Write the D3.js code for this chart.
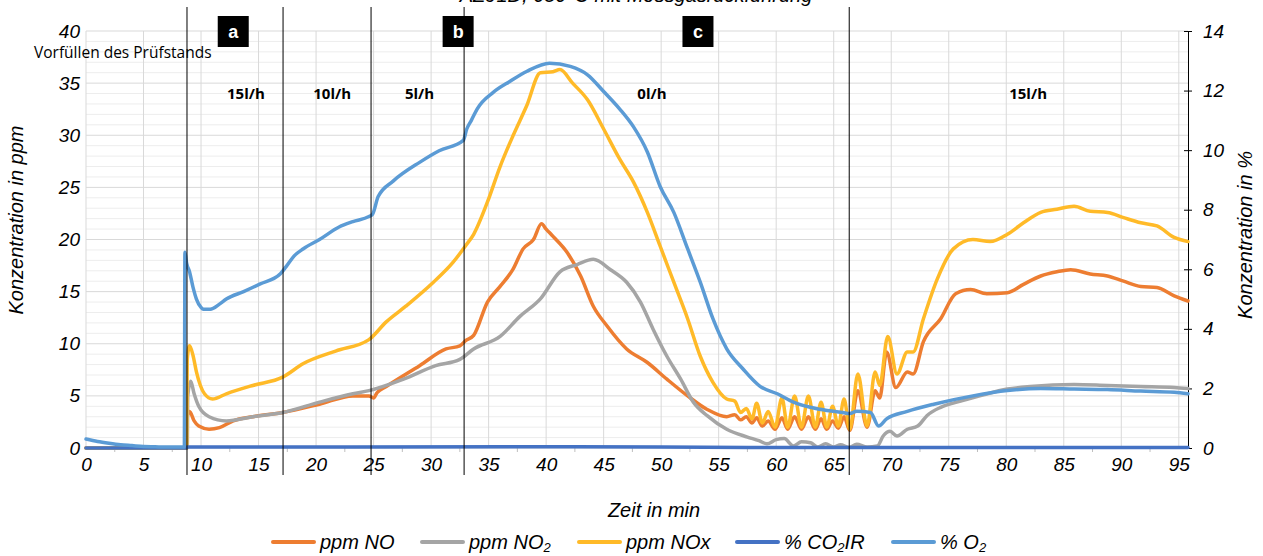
<!DOCTYPE html>
<html>
<head>
<meta charset="utf-8">
<script src="https://cdn.jsdelivr.net/npm/d3@7"></script>
<style>
  body { margin: 0; background: #fff; }
  svg { display: block; font-family: "Liberation Sans", Arial, sans-serif; }
</style>
</head>
<body>
<div id="chart"></div>
<script>
// Time in min, values in ppm (NO, NO2, NOx) or % (CO2, O2)
var noData = [[0,0],[8.75,0],[8.8,3.0],[9.0,3.5],[9.4,2.6],[9.8,2.1],[10.7,1.8],[11.6,1.95],[12.8,2.6],[14.5,3.0],[17.1,3.4],
  [20.3,4.2],[23.2,5.0],[24.6,5.0],[25.0,4.8],[25.3,5.3],[26.1,5.9],[29.0,7.9],[31.3,9.5],[32.5,9.8],[33.0,10.3],[33.7,10.8],
  [34.9,14.0],[36.0,15.5],[37.1,17.1],[38.0,19.1],[38.9,20.0],[39.6,21.5],[40.0,21.0],[40.6,20.3],[41.8,18.8],[43.0,16.5],
  [44.1,13.6],[45.3,11.7],[47.0,9.5],[48.8,8.2],[50.5,6.6],[52.3,5.0],[54.0,3.7],[55.7,3.0],[56.4,3.2],[56.9,2.7],[57.4,3.0],
  [57.9,2.4],[58.3,2.9],[58.8,2.1],[59.3,2.6],[59.9,1.8],[60.5,2.9],[61.0,1.8],[61.6,3.0],[62.2,1.8],[62.8,3.0],[63.4,1.8],
  [63.9,2.8],[64.4,1.8],[64.9,2.6],[65.4,1.9],[65.9,3.0],[66.4,1.7],[67.1,5.5],[67.9,2.0],[68.6,5.5],[69.0,4.8],[69.6,9.2],
  [70.4,5.8],[71.4,7.3],[71.9,7.1],[72.8,10.2],[74.3,12.4],[75.6,14.8],[76.9,15.2],[78.3,14.8],[80.1,14.9],[81.5,15.7],
  [83.0,16.5],[84.4,16.9],[85.6,17.1],[87.3,16.7],[88.8,16.5],[90.2,16.0],[91.7,15.5],[93.1,15.4],[94.6,14.6],[95.8,14.1]];

var no2Data = [[0,0],[8.8,0],[8.85,5.0],[9.1,6.4],[9.4,5.2],[9.8,4.0],[10.7,3.0],[12.2,2.6],[14.5,3.0],[17.1,3.4],[20.3,4.4],
  [23.2,5.2],[24.6,5.5],[27.6,6.6],[30.4,7.9],[32.5,8.5],[33.7,9.5],[36.0,10.7],[37.7,12.6],[39.5,14.3],[41.2,16.9],[42.7,17.6],
  [44.1,18.1],[45.6,17.1],[47.0,15.9],[48.2,14.0],[49.3,11.4],[50.5,8.8],[51.7,6.6],[52.8,4.4],[54.0,3.1],[55.7,1.8],[57.5,1.05],
  [58.5,0.7],[59.2,0.4],[60.0,0.8],[60.7,0.9],[61.5,0.2],[62.2,0.6],[63.0,0.5],[63.6,0.1],[64.3,0.4],[65.0,0.1],[65.6,0.3],
  [66.3,0.05],[67.0,0.35],[67.9,0.1],[68.8,0.2],[69.3,1.15],[69.9,1.6],[70.5,1.15],[71.4,1.8],[72.3,2.1],[73.1,3.1],[74.3,3.9],
  [75.7,4.4],[77.7,5.0],[80.1,5.65],[82.1,5.9],[85.9,6.1],[88.8,6.0],[91.7,5.9],[94.6,5.8],[95.8,5.7]];

var noxData = [[0,0],[8.75,0],[8.8,8.5],[9.0,9.8],[9.3,8.9],[9.6,7.3],[10.3,5.2],[11.0,4.7],[12.2,5.2],[14.5,6.0],[17.1,6.8],
  [18.9,8.1],[21.7,9.3],[24.6,10.4],[26.1,12.1],[27.8,13.6],[30.2,15.9],[31.9,17.8],[33.0,19.4],[33.7,20.5],[34.9,23.6],
  [36.0,27.0],[37.1,29.9],[38.3,32.8],[39.5,36.0],[40.6,36.1],[41.2,36.3],[42.3,35.0],[43.6,33.4],[45.0,30.6],[46.4,27.7],
  [47.6,25.5],[48.8,22.6],[49.9,19.4],[51.1,15.9],[52.3,12.4],[53.4,8.8],[54.5,6.3],[55.7,4.7],[56.4,4.5],[56.9,3.4],[57.4,3.8],
  [57.9,2.8],[58.3,4.3],[58.8,2.4],[59.3,3.5],[59.9,2.0],[60.5,4.8],[61.0,2.0],[61.6,5.0],[62.2,2.0],[62.8,5.0],[63.4,2.0],
  [63.9,4.4],[64.4,2.0],[64.9,4.0],[65.4,2.1],[65.9,4.7],[66.4,1.8],[67.1,7.1],[67.9,2.1],[68.6,7.3],[69.0,6.0],[69.7,10.7],
  [70.5,7.1],[71.4,9.2],[71.9,9.2],[72.8,12.4],[74.0,16.2],[75.4,19.1],[77.1,20.0],[78.6,19.8],[80.1,20.5],[81.5,21.6],
  [83.0,22.6],[84.4,22.9],[85.9,23.2],[87.3,22.7],[88.8,22.6],[90.2,22.1],[91.7,21.6],[93.1,21.3],[94.6,20.2],[95.8,19.8]];

var co2Data = [[0,0],[8.7,0],[8.8,0.03],[40,0.04],[60,0.02],[95.8,0.02]];

var o2Data = [[0,0.30],[1,0.22],[2,0.16],[3,0.11],[4,0.08],[5,0.05],[6,0.04],[7,0.03],[8.55,0.03],[8.6,6.57],[8.75,6.2],
  [9.0,5.92],[9.3,5.4],[9.6,5.0],[10.0,4.72],[10.2,4.66],[10.8,4.66],[11.6,4.83],[12.2,5.0],[13.7,5.25],[15.1,5.5],[16.9,5.85],
  [17.4,6.09],[18.1,6.45],[18.9,6.69],[20.3,7.0],[22.0,7.42],[23.2,7.6],[24.6,7.77],[24.9,7.84],[25.4,8.44],[26.7,8.96],
  [29.0,9.59],[30.7,9.98],[32.8,10.33],[33.1,10.71],[33.5,11.0],[34.0,11.38],[35.4,11.94],[36.9,12.32],[38.3,12.64],
  [40.3,12.92],[42.1,12.81],[43.6,12.53],[45.0,11.97],[46.4,11.38],[47.6,10.78],[48.8,9.94],[49.9,8.79],[51.1,7.91],
  [52.3,6.69],[53.4,5.57],[54.5,4.34],[55.7,3.33],[57.1,2.66],[58.6,2.07],[60.1,1.82],[61.5,1.54],[63.8,1.30],[65.8,1.19],
  [66.4,1.16],[67.0,1.23],[68.2,1.19],[68.9,0.74],[69.6,0.98],[71.4,1.23],[73.7,1.47],[77.1,1.75],[80.1,1.93],[83.0,2.0],
  [85.9,1.98],[88.8,1.96],[91.7,1.91],[94.6,1.87],[95.8,1.82]];

var xTicks = [0,5,10,15,20,25,30,35,40,45,50,55,60,65,70,75,80,85,90,95];
var leftTicks = [0,5,10,15,20,25,30,35,40];
var rightTicks = [0,2,4,6,8,10,12,14];

// phase markers (min) and annotations
var phaseTimes = [8.78, 17.13, 24.78, 32.87, 66.35];
var flowLabels = [{t: 13.9, text: "15l/h"}, {t: 21.4, text: "10l/h"}, {t: 29.0, text: "5l/h"},
                  {t: 49.2, text: "0l/h"}, {t: 81.9, text: "15l/h"}];
var boxLabels = [{t: 12.8, text: "a"}, {t: 32.35, text: "b"}, {t: 53.2, text: "c"}];

var series = [
  {name: "ppm NO", sub: null, data: noData, axis: "left", color: "#ED7D31", lx: 271},
  {name: "ppm NO", sub: "2", data: no2Data, axis: "left", color: "#A5A5A5", lx: 420},
  {name: "ppm NOx", sub: null, data: noxData, axis: "left", color: "#FFBA28", lx: 577},
  {name: "% CO", sub: "2", after: "IR", data: co2Data, axis: "right", color: "#4472C4", lx: 735},
  {name: "% O", sub: "2", data: o2Data, axis: "right", color: "#5B9BD5", lx: 891}
];

var W = 1263, H = 556;
var plotLeft = 86, plotRight = 1188, plotTop = 31, plotBottom = 448;

var svg = d3.select("#chart").append("svg")
  .attr("width", W).attr("height", H);

var x = d3.scaleLinear().domain([0, 95.8]).range([plotLeft, plotRight]);
var yL = d3.scaleLinear().domain([0, 40]).range([plotBottom, plotTop]);
var yR = d3.scaleLinear().domain([0, 14]).range([plotBottom, plotTop]);

// gridlines
var grid = svg.append("g");
grid.selectAll(".hminor").data(d3.range(0, 41).filter(d => d % 5 !== 0)).enter()
  .append("line")
  .attr("x1", plotLeft).attr("x2", plotRight)
  .attr("y1", d => yL(d)).attr("y2", d => yL(d))
  .attr("stroke", "#EDEDED").attr("stroke-width", 1);
grid.selectAll(".hmajor").data(leftTicks).enter()
  .append("line")
  .attr("x1", plotLeft).attr("x2", plotRight)
  .attr("y1", d => yL(d)).attr("y2", d => yL(d))
  .attr("stroke", "#D9D9D9").attr("stroke-width", 1);
grid.selectAll(".vmajor").data(xTicks).enter()
  .append("line")
  .attr("x1", d => x(d)).attr("x2", d => x(d))
  .attr("y1", plotTop).attr("y2", plotBottom)
  .attr("stroke", "#D9D9D9").attr("stroke-width", 1);
// minor ticks below the x axis
grid.selectAll(".xminor").data(d3.range(2.5, 95.8, 5)).enter()
  .append("line")
  .attr("x1", d => x(d)).attr("x2", d => x(d))
  .attr("y1", plotBottom).attr("y2", plotBottom + 4)
  .attr("stroke", "#BFBFBF").attr("stroke-width", 1);

// x axis
var xAxis = svg.append("g")
  .attr("transform", "translate(0," + plotBottom + ")")
  .call(d3.axisBottom(x).tickValues(xTicks).tickSize(0).tickPadding(10));
xAxis.select(".domain").remove();
xAxis.selectAll("text").style("font-size", "19px").style("font-style", "italic").attr("fill", "#000");

// left axis
var yAxisL = svg.append("g")
  .attr("transform", "translate(" + plotLeft + ",0)")
  .call(d3.axisLeft(yL).tickValues(leftTicks).tickSize(0).tickPadding(6));
yAxisL.select(".domain").remove();
yAxisL.selectAll("text").style("font-size", "19px").style("font-style", "italic").attr("fill", "#000");

// right axis
var yAxisR = svg.append("g")
  .attr("transform", "translate(" + plotRight + ",0)")
  .call(d3.axisRight(yR).tickValues(rightTicks).tickSizeInner(4).tickSizeOuter(0).tickPadding(11));
yAxisR.select(".domain").attr("stroke", "#000");
yAxisR.selectAll(".tick line").attr("x1", -4).attr("x2", 4).attr("stroke", "#000");
yAxisR.selectAll("text").style("font-size", "19px").style("font-style", "italic").attr("fill", "#000");

// series lines
series.forEach(function (s) {
  var yScale = s.axis === "left" ? yL : yR;
  var line = d3.line()
    .curve(d3.curveMonotoneX)
    .x(d => x(d[0]))
    .y(d => yScale(d[1]));
  svg.append("path")
    .datum(s.data)
    .attr("d", line)
    .attr("fill", "none")
    .attr("stroke", s.color)
    .attr("stroke-width", 3.5)
    .attr("stroke-linejoin", "round")
    .attr("stroke-linecap", "round");
});

// phase marker lines
svg.selectAll(".phase").data(phaseTimes).enter()
  .append("line")
  .attr("x1", d => x(d)).attr("x2", d => x(d))
  .attr("y1", 7).attr("y2", 475)
  .attr("stroke", "#000").attr("stroke-width", 1);

// flow rate labels
svg.selectAll(".flow").data(flowLabels).enter()
  .append("text")
  .attr("x", d => x(d.t)).attr("y", 99)
  .attr("text-anchor", "middle")
  .style("font-family", "'Open Sans', sans-serif")
  .style("font-weight", "bold")
  .style("font-size", "15px")
  .text(d => d.text);

// a / b / c boxes
var boxes = svg.selectAll(".box").data(boxLabels).enter().append("g");
boxes.append("rect")
  .attr("x", d => x(d.t) - 15.5).attr("y", 16)
  .attr("width", 31).attr("height", 31)
  .attr("fill", "#000");
boxes.append("text")
  .attr("x", d => x(d.t)).attr("y", 38)
  .attr("text-anchor", "middle")
  .attr("fill", "#fff")
  .style("font-weight", "bold")
  .style("font-size", "18px")
  .text(d => d.text);

svg.append("text")
  .attr("x", 34).attr("y", 58)
  .style("font-family", "'Open Sans', sans-serif")
  .style("font-size", "15.5px")
  .text("Vorfüllen des Prüfstands");

// title (cut off at the top)
svg.append("text")
  .attr("x", 636).attr("y", 2)
  .attr("text-anchor", "middle")
  .style("font-style", "italic")
  .style("font-size", "20px")
  .text("AZ91D, 650°C mit Messgasrückführung");

// axis titles
svg.append("text")
  .attr("transform", "translate(23,220) rotate(-90)")
  .attr("text-anchor", "middle")
  .style("font-style", "italic").style("font-size", "20px")
  .text("Konzentration in ppm");
svg.append("text")
  .attr("transform", "translate(1252,235) rotate(-90)")
  .attr("text-anchor", "middle")
  .style("font-style", "italic").style("font-size", "20px")
  .text("Konzentration in %");
svg.append("text")
  .attr("x", 654).attr("y", 517)
  .attr("text-anchor", "middle")
  .style("font-style", "italic").style("font-size", "20px")
  .text("Zeit in min");

// legend
var legend = svg.selectAll(".legend").data(series).enter().append("g");
legend.append("line")
  .attr("x1", d => d.lx + 2).attr("x2", d => d.lx + 43)
  .attr("y1", 542).attr("y2", 542)
  .attr("stroke", d => d.color)
  .attr("stroke-width", 4)
  .attr("stroke-linecap", "round");
legend.append("text")
  .attr("x", d => d.lx + 49).attr("y", 549)
  .style("font-style", "italic").style("font-size", "20px")
  .each(function (d) {
    var t = d3.select(this);
    t.append("tspan").text(d.name);
    if (d.sub) {
      t.append("tspan").attr("dy", 3).style("font-size", "13px").text(d.sub);
      if (d.after) t.append("tspan").attr("dy", -3).text(d.after);
    }
  });
</script>
</body>
</html>
